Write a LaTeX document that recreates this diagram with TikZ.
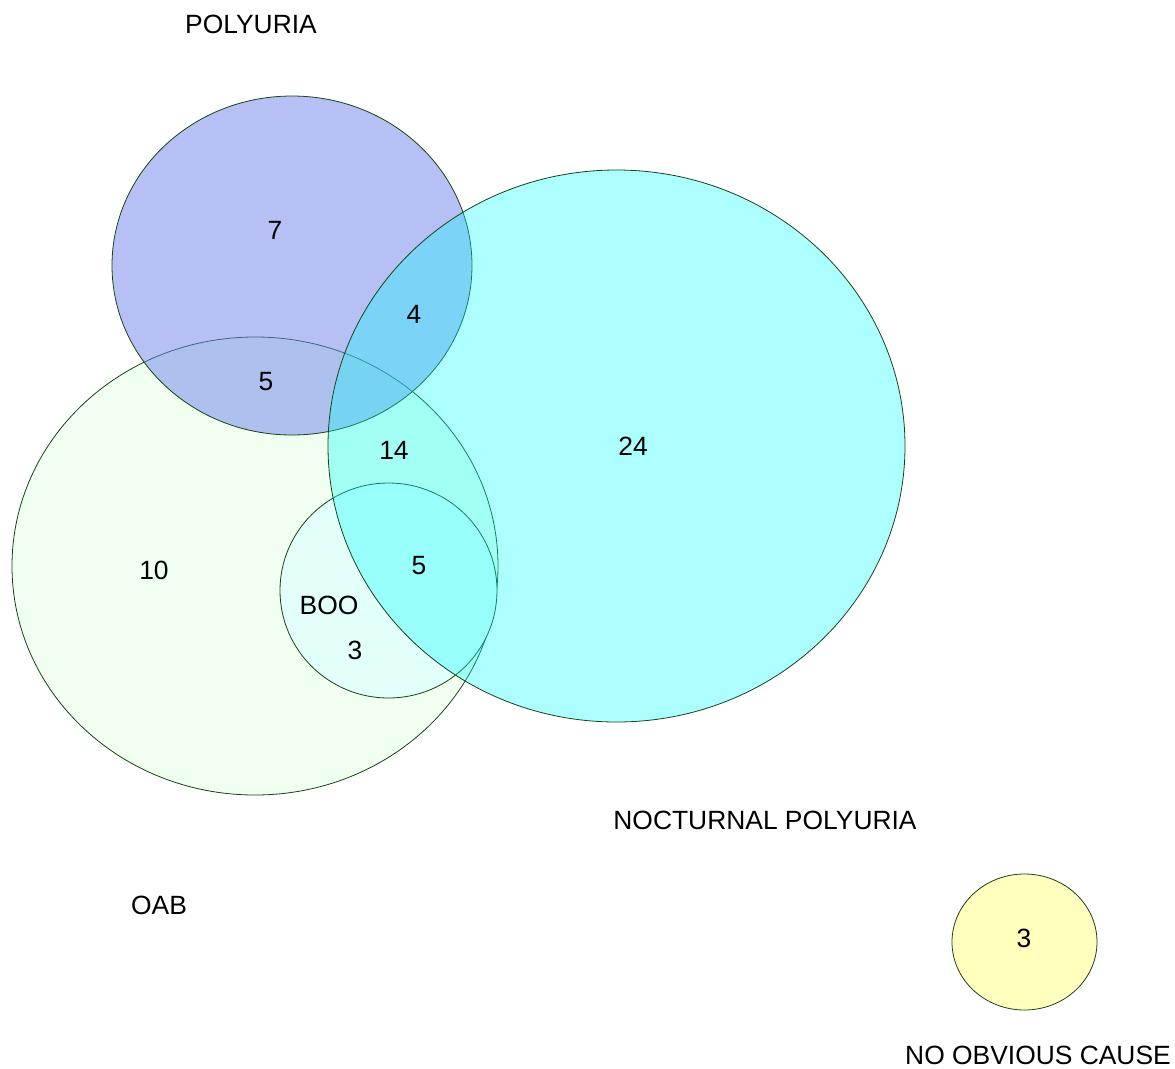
\documentclass[tikz,border=0pt]{standalone}
\usepackage{fontspec}
\setmainfont{Liberation Sans}
\begin{document}
\begin{tikzpicture}[x=0.75pt,y=-0.75pt,
  outline/.style={draw={rgb,255:red,20;green,70;blue,20}, line width=0.6pt},
  lbl/.style={inner sep=0pt, font=\fontsize{19.8pt}{22pt}\selectfont},
  oabfill/.style={fill={rgb,255:red,240;green,255;blue,240}},
  polyfill/.style={fill={rgb,255:red,110;green,130;blue,235}, fill opacity=0.5},
  nocfill/.style={fill={rgb,255:red,0;green,255;blue,255}, fill opacity=0.32},
  boofill/.style={fill={rgb,255:red,226;green,255;blue,250}},
  nocausefill/.style={fill={rgb,255:red,255;green,255;blue,190}}]
\useasboundingbox (0,0) rectangle (1175,1068);
% circles
\draw[outline,oabfill] (255,566) ellipse [x radius=243, y radius=229];
\draw[outline,polyfill] (292,265.5) ellipse [x radius=180, y radius=169.5];
\draw[outline,boofill] (388.5,590.5) ellipse [x radius=108.5, y radius=107.5];
\draw[outline,nocfill] (616.5,446) ellipse [x radius=288.5, y radius=276];
\draw[outline,nocausefill] (1024.5,942) ellipse [x radius=72.5, y radius=68];
% labels
\node[lbl] (tpoly) at (251,24) {POLYURIA};
\node[lbl] (n7) at (275,230) {7};
\node[lbl] (n4) at (414,314) {4};
\node[lbl] (n5a) at (266,382) {5};
\node[lbl] (n14) at (394,450) {14};
\node[lbl] (n24) at (633,446) {24};
\node[lbl] (n10) at (154,570) {10};
\node[lbl] (n5b) at (419,566) {5};
\node[lbl] (tboo) at (329,605) {BOO};
\node[lbl] (n3a) at (355,650) {3};
\node[lbl] (tnoc) at (765,820) {NOCTURNAL POLYURIA};
\node[lbl] (toab) at (159,905) {OAB};
\node[lbl] (n3b) at (1024,938) {3};
\node[lbl] (tnone) at (1038,1055) {NO OBVIOUS CAUSE};
\end{tikzpicture}
\end{document}
